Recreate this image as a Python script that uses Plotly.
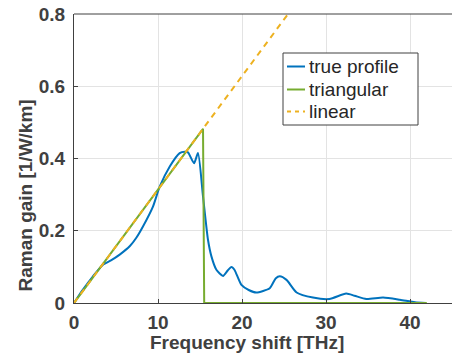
import plotly.graph_objects as go

# True Raman gain profile
true_x = [0, 1.0, 2.26, 3.45, 4.4, 5.44, 6.63, 7.4, 8.21, 9.4, 10.2, 11.4, 12.58, 13.18,
          13.57, 14.29, 14.76, 15.36, 15.95, 16.36, 16.95, 17.74, 18.3, 18.74, 19.1,
          19.93, 20.8, 21.7, 23.3, 24.0, 24.5, 25.3, 26.5, 28.45, 30.4, 32.4, 33.4,
          34.8, 36.8, 38.8, 40.6, 41.9]
true_y = [0, 0.035, 0.074, 0.106, 0.118, 0.134, 0.157, 0.18, 0.212, 0.267, 0.322, 0.378,
          0.415, 0.419, 0.417, 0.387, 0.415, 0.295, 0.175, 0.129, 0.092, 0.075, 0.09,
          0.1, 0.092, 0.05, 0.036, 0.029, 0.041, 0.068, 0.074, 0.064, 0.029, 0.015,
          0.011, 0.026, 0.02, 0.011, 0.015, 0.009, 0.002, 0.0]

# Triangular approximation
tri_x = [0, 15.36, 15.5, 42]
tri_y = [0, 0.482, 0.0, 0.0]

# Linear approximation
lin_x = [0, 42]
lin_y = [0, 0.0314 * 42]

names = ["true profile", "triangular", "linear"]
colors = ["#0072BD", "#77AC30", "#EDB120"]

fig = go.Figure()
fig.add_trace(go.Scatter(x=true_x, y=true_y, mode="lines", name=names[0],
                         line=dict(color=colors[0], width=2, shape="spline", smoothing=0.6)))
fig.add_trace(go.Scatter(x=tri_x, y=tri_y, mode="lines", name=names[1],
                         line=dict(color=colors[1], width=2)))
fig.add_trace(go.Scatter(x=lin_x, y=lin_y, mode="lines", name=names[2],
                         line=dict(color=colors[2], width=2, dash="6px,5px")))

axis_col = "#404040"
tick_font = dict(family="Liberation Sans", size=19, color="#404040", weight="bold")

fig.update_layout(
    width=452, height=359,
    margin=dict(l=74, r=0, t=14, b=56),
    plot_bgcolor="white", paper_bgcolor="white",
    showlegend=False,
    xaxis=dict(range=[0, 45], tickvals=[0, 10, 20, 30, 40], showgrid=True,
               gridcolor="#e3e3e3", gridwidth=1, zeroline=False,
               showline=True, linecolor=axis_col, linewidth=1,
               ticks="inside", ticklen=4, tickcolor=axis_col,
               tickfont=tick_font, ticklabelstandoff=2),
    yaxis=dict(range=[0, 0.8], tickvals=[0, 0.2, 0.4, 0.6, 0.8],
               ticktext=["0", "0.2", "0.4", "0.6", "0.8"], showgrid=True,
               gridcolor="#e3e3e3", gridwidth=1, zeroline=False,
               showline=True, linecolor=axis_col, linewidth=1,
               ticks="inside", ticklen=4, tickcolor=axis_col,
               tickfont=tick_font, ticklabelstandoff=4),
)

# top box line
fig.add_shape(type="line", xref="paper", yref="paper", x0=0, x1=1, y0=1, y1=1,
              line=dict(color=axis_col, width=1))

title_font = dict(family="Liberation Sans", size=19, color="#404040", weight="bold")
fig.add_annotation(text="Frequency shift [THz]", xref="paper", yref="paper",
                   x=0.4577, y=-0.137, xanchor="center", yanchor="middle",
                   showarrow=False, font=title_font)
fig.add_annotation(text="Raman gain [1/W/km]", xref="paper", yref="paper",
                   x=-0.1296, y=0.372, xanchor="center", yanchor="middle",
                   textangle=-90, showarrow=False, font=title_font)

# manual legend (pixel -> paper)
W, H = 378.0, 289.0
L, T = 74.0, 14.0
def px(xp): return (xp - L) / W
def py(yp): return 1 - (yp - T) / H

fig.add_shape(type="rect", xref="paper", yref="paper",
              x0=px(283), x1=px(418), y0=py(125), y1=py(53),
              fillcolor="white", line=dict(color="#404040", width=1), layer="above")
rows = [66.5, 89.5, 111.5]
for i, (nm, col) in enumerate(zip(names, colors)):
    dash = "solid" if i < 2 else "4px,4px"
    fig.add_shape(type="line", xref="paper", yref="paper",
                  x0=px(287), x1=px(305), y0=py(rows[i]), y1=py(rows[i]),
                  line=dict(color=col, width=2, dash=dash), layer="above")
    fig.add_annotation(text=nm, xref="paper", yref="paper", x=px(307), y=py(rows[i]),
                       xanchor="left", yanchor="middle", showarrow=False,
                       font=dict(family="Liberation Sans", size=19, color="#262626"))

fig.write_html("out.html", config={"displayModeBar": False},
               post_script="document.body.style.margin='0px';document.body.style.overflow='hidden';")
